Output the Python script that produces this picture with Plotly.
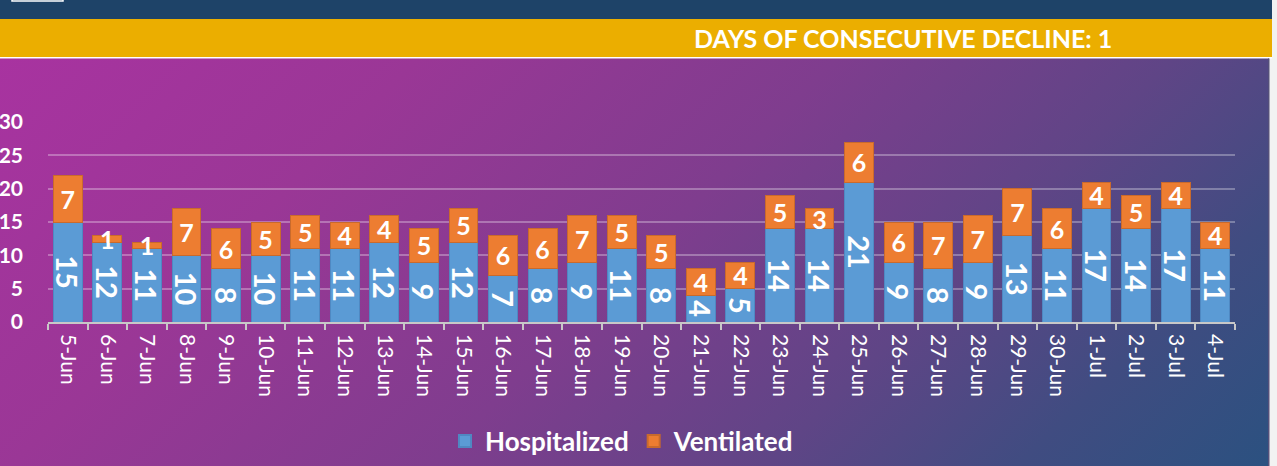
import base64
import plotly.graph_objects as go

dates = ["5-Jun", "6-Jun", "7-Jun", "8-Jun", "9-Jun", "10-Jun", "11-Jun", "12-Jun",
         "13-Jun", "14-Jun", "15-Jun", "16-Jun", "17-Jun", "18-Jun", "19-Jun", "20-Jun",
         "21-Jun", "22-Jun", "23-Jun", "24-Jun", "25-Jun", "26-Jun", "27-Jun", "28-Jun",
         "29-Jun", "30-Jun", "1-Jul", "2-Jul", "3-Jul", "4-Jul"]
hospitalized = [15, 12, 11, 10, 8, 10, 11, 11, 12, 9, 12, 7, 8, 9, 11, 8, 4, 5,
                14, 14, 21, 9, 8, 9, 13, 11, 17, 14, 17, 11]
ventilated = [7, 1, 1, 7, 6, 5, 5, 4, 4, 5, 5, 6, 6, 7, 5, 5, 4, 4,
              5, 3, 6, 6, 7, 7, 7, 6, 4, 5, 4, 4]
y_ticks = [0, 5, 10, 15, 20, 25, 30]
banner_text = "DAYS OF CONSECUTIVE DECLINE: 1"

W, H = 1277, 466
L, R, T, B = 48, 1235, 122, 322  # plot area in pixels
FONT = "Lato"

svg = f'''<svg xmlns="http://www.w3.org/2000/svg" width="{W}" height="{H}" viewBox="0 0 {W} {H}">
<defs>
<linearGradient id="g" gradientUnits="userSpaceOnUse" x1="0" y1="58" x2="838" y2="897">
<stop offset="0" stop-color="#A833A0"/>
<stop offset="0.25" stop-color="#9A3796"/>
<stop offset="0.5" stop-color="#7F3D8E"/>
<stop offset="0.7" stop-color="#5F4586"/>
<stop offset="0.85" stop-color="#404C81"/>
<stop offset="1" stop-color="#2B5180"/>
</linearGradient>
</defs>
<rect x="0" y="0" width="{W}" height="{H}" fill="#F2F2F2"/>
<rect x="0" y="0" width="1272" height="19" fill="#1E4368"/>
<rect x="12" y="-4" width="51" height="5" fill="none" stroke="#FFFFFF" stroke-width="1.5"/>
<rect x="0" y="19" width="1272" height="38" fill="#EBAE00"/>
<rect x="0" y="57" width="1272" height="1.5" fill="#FFFFFF"/>
<rect x="0" y="58.5" width="1269" height="{H-58.5}" fill="url(#g)"/>
<rect x="1268" y="58.5" width="1.5" height="{H-58.5}" fill="#55507A"/>
</svg>'''
src = "data:image/svg+xml;base64," + base64.b64encode(svg.encode()).decode()

pw, ph = R - L, B - T
def px(x):
    return (x - L) / pw
def py(y):
    return (B - y) / (ph)

fig = go.Figure()
fig.add_trace(go.Bar(
    name="Hospitalized", x=dates, y=hospitalized,
    marker=dict(color="#5B9BD5", line=dict(color="#4F88C2", width=1)),
    text=hospitalized, textposition="inside", insidetextanchor="middle",
    textangle=90, constraintext="none",
    insidetextfont=dict(family=FONT, size=29, color="white", weight="bold"),
    hoverinfo="skip",
))
fig.add_trace(go.Bar(
    name="Ventilated", x=dates, y=ventilated,
    marker=dict(color="#ED7D31", line=dict(color="#C96A2C", width=1)),
    text=ventilated, textposition="inside", insidetextanchor="middle",
    textangle=0, constraintext="none",
    insidetextfont=dict(family=FONT, size=25, color="white", weight="bold"),
    hoverinfo="skip",
))

fig.update_layout(
    template="none",
    width=W, height=H,
    margin=dict(l=L, r=W - R, t=T, b=H - B, pad=0, autoexpand=False),
    barmode="stack", bargap=0.27,
    paper_bgcolor="#F2F2F2", plot_bgcolor="rgba(0,0,0,0)",
    font=dict(family=FONT, color="white"),
    showlegend=True,
    legend=dict(orientation="h", x=px(622), y=py(441), xanchor="center", yanchor="middle",
                font=dict(family=FONT, size=26, color="white", weight="bold"),
                bgcolor="rgba(0,0,0,0)", traceorder="normal", itemsizing="constant"),
    xaxis=dict(type="category", tickangle=90, tickson="boundaries", ticks="outside",
               ticklen=6, tickwidth=1.5, tickcolor="#C8C8C8", showline=True,
               linecolor="#C8C8C8", linewidth=1.5, showgrid=False, automargin=False,
               ticklabelstandoff=6,
               tickfont=dict(family=FONT, size=21, color="white")),
    yaxis=dict(range=[0, 30], tickvals=y_ticks, showgrid=True,
               gridcolor="rgba(255,255,255,0.3)", gridwidth=1.5, zeroline=False,
               showline=False, ticks="", automargin=False, ticklabelstandoff=24,
               tickfont=dict(family=FONT, size=21, color="white", weight="bold")),
    images=[dict(source=src, xref="paper", yref="paper", x=px(0), y=py(0),
                 sizex=W / pw, sizey=H / ph, xanchor="left", yanchor="top",
                 sizing="stretch", layer="below")],
    annotations=[dict(text=banner_text, xref="paper", yref="paper", x=px(903), y=py(38),
                      xanchor="center", yanchor="middle", showarrow=False,
                      font=dict(family=FONT, size=25, color="white", weight="bold"))],
)

fig.write_html("out.html", config={"displayModeBar": False},
               post_script="document.body.style.margin='0';document.body.style.overflow='hidden';")
